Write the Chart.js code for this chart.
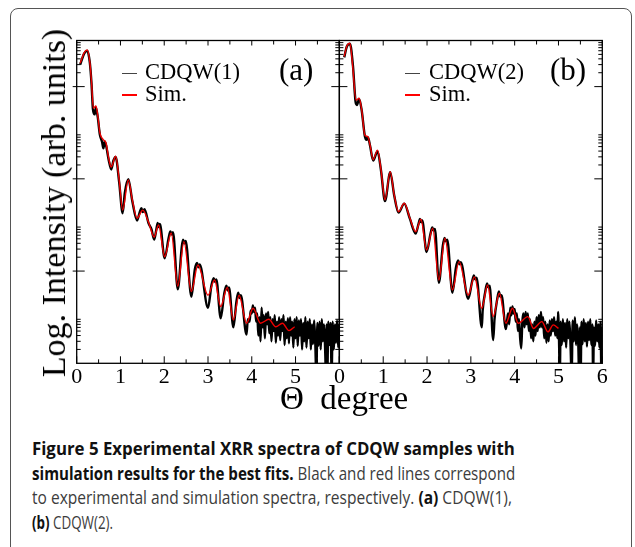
<!DOCTYPE html>
<html>
<head>
<meta charset="utf-8">
<script src="https://cdn.jsdelivr.net/npm/chart.js@4.4.1/dist/chart.umd.min.js"></script>
<style>
  html, body { margin: 0; padding: 0; background: #fff; }
  body { width: 635px; height: 547px; position: relative; overflow: hidden; }
  #frame { position: absolute; left: 10px; top: 8px; width: 622px; height: 620px; border: 1.3px solid #555; border-radius: 8px; box-sizing: border-box; }
  canvas { position: absolute; top: 0; }
  #chart-a { left: 0; }
  #chart-b { left: 320px; }
  .serif { position: absolute; font-family: 'Liberation Serif', 'Times New Roman', serif; color: #000; line-height: 1; white-space: pre; }
  .seg { position: absolute; height: 1.2px; width: 15px; }
  #ytitle { left: 54px; top: 203px; font-size: 34px; transform: translate(-50%, -50%) rotate(-90deg); }
  #caption { position: absolute; left: 32px; top: 436px; font-family: 'Open Sans', sans-serif; font-size: 18px; line-height: 24.5px; color: #3c3c3c; white-space: nowrap; }
  #caption .cl { transform-origin: 0 0; }
  #caption .cl span { display: inline-block; }
  #caption b { color: #111; font-weight: 700; }
</style>
</head>
<body>
<div id="frame"></div>
<canvas id="chart-a" width="345" height="400"></canvas>
<canvas id="chart-b" width="300" height="400"></canvas>

<div class="serif" id="ytitle">Log. Intensity (arb. units)</div>
<div class="serif" style="left:280px; top:382.4px; font-size:33px;">Θ  degree</div>

<div class="seg" style="left:122px; top:72.6px; background:#444;"></div>
<div class="serif" style="left:145px; top:61.2px; font-size:22.5px;">CDQW(1)</div>
<div class="seg" style="left:122px; top:94.4px; background:#f00;"></div>
<div class="serif" style="left:145px; top:83.2px; font-size:22.5px;">Sim.</div>
<div class="serif" style="left:279px; top:54px; font-size:31px;">(a)</div>

<div class="seg" style="left:405px; top:72.6px; background:#444;"></div>
<div class="serif" style="left:429px; top:61.2px; font-size:22.5px;">CDQW(2)</div>
<div class="seg" style="left:405px; top:94.4px; background:#f00;"></div>
<div class="serif" style="left:429px; top:83.2px; font-size:22.5px;">Sim.</div>
<div class="serif" style="left:550px; top:54px; font-size:31px;">(b)</div>

<div id="caption">
  <div class="cl" data-w="483"><span><b>Figure 5 Experimental XRR spectra of CDQW samples with</b></span></div>
  <div class="cl" data-w="483"><span><b>simulation results for the best fits.</b> Black and red lines correspond</span></div>
  <div class="cl" data-w="480"><span>to experimental and simulation spectra, respectively. <b>(a)</b> CDQW(1),</span></div>
  <div class="cl" data-w="81"><span><b>(b)</b> CDQW(2).</span></div>
</div>

<script>
// axis ticks (theta in degree, intensity in arb. units)
const xMajor = [0, 1, 2, 3, 4, 5, 6];
const xMinor = [0.5, 1.5, 2.5, 3.5, 4.5, 5.5];
const yMajor = [1e2, 1e4, 1e6];
const yMinor = [2, 3, 4, 5, 6, 7, 8, 9, 2e2, 3e2, 4e2, 5e2, 6e2, 7e2, 8e2, 9e2,
  2e4, 3e4, 4e4, 5e4, 6e4, 7e4, 8e4, 9e4, 2e6, 3e6, 4e6, 5e6, 6e6, 7e6, 8e6, 9e6];

// (a) CDQW(1)
const simAx = [0.08, 0.17, 0.24, 0.30, 0.34, 0.38, 0.44, 0.48, 0.53, 0.61, 0.67, 0.73, 0.79, 0.89, 0.97, 1.05,
  1.18, 1.27, 1.38, 1.51, 1.64, 1.77, 1.87, 2.01, 2.16, 2.31, 2.45, 2.62, 2.77, 3.00, 3.15, 3.29, 3.44, 3.58,
  3.71, 3.88, 4.03, 4.20, 4.39, 4.55, 4.70, 4.85, 4.98];
const simA = [3.2e6, 5.4e6, 6.2e6, 3.4e6, 1.2e6, 3.4e5, 3.8e5, 2.4e5, 9.9e4, 7.0e4, 6.0e4, 2.8e4, 1.8e4, 3.1e4, 9.5e3, 2.1e3,
  9.5e3, 3.5e3, 1.4e3, 2.1e3, 1.16e3, 548, 998, 205, 670, 47, 434, 36, 135, 30, 64, 17, 44, 8.7,
  30, 7.4, 15.6, 7.4, 9.0, 6.2, 7.4, 5.1, 6.2];
const expAx = [0.08, 0.17, 0.24, 0.30, 0.34, 0.37, 0.41, 0.44, 0.48, 0.53, 0.58, 0.61, 0.64, 0.67, 0.73, 0.79, 0.84, 0.89, 0.97,
  1.05, 1.10, 1.18, 1.27, 1.38, 1.44, 1.48, 1.51, 1.55, 1.64, 1.71, 1.77, 1.82, 1.85, 1.87, 1.90, 2.01, 2.10, 2.14, 2.17, 2.20,
  2.31, 2.40, 2.43, 2.46, 2.49, 2.62, 2.70, 2.75, 2.78, 2.81, 3.00, 3.08, 3.13, 3.16, 3.19, 3.29, 3.37, 3.42, 3.45, 3.48,
  3.58, 3.65, 3.69, 3.72, 3.75, 3.88, 3.91,
  3.950, 3.975, 4.000, 4.025, 4.050, 4.075, 4.100, 4.125, 4.150, 4.175, 4.200, 4.225, 4.250, 4.275, 4.300, 4.325,
  4.350, 4.375, 4.400, 4.425, 4.450, 4.475, 4.500, 4.525, 4.550, 4.575, 4.600, 4.625, 4.650, 4.675, 4.700, 4.725,
  4.750, 4.775, 4.800, 4.825, 4.850, 4.875, 4.900, 4.925, 4.950, 4.975, 5.000, 5.025, 5.050, 5.075, 5.100, 5.125,
  5.150, 5.175, 5.200, 5.225, 5.250, 5.275, 5.300, 5.325, 5.350, 5.375, 5.400, 5.425, 5.450, 5.475, 5.500, 5.525,
  5.550, 5.575, 5.600, 5.625, 5.650, 5.675, 5.700, 5.710, 5.725, 5.750, 5.775, 5.800, 5.825, 5.850, 5.875, 5.900,
  5.925, 5.950, 5.975, 6.000];
const expA = [3.0e6, 5.2e6, 6.0e6, 3.3e6, 1.1e6, 3.3e5, 2.5e5, 3.5e5, 2.2e5, 9.0e4, 6.3e4, 4.6e4, 6.5e4, 5.4e4, 2.6e4, 1.6e4, 2.5e4, 3.0e4, 8.5e3,
  1.8e3, 5.0e3, 9.8e3, 3.3e3, 1.25e3, 1.9e3, 2.3e3, 1.9e3, 2.2e3, 1.1e3, 800, 480, 800, 1.1e3, 900, 1.05e3, 190, 520, 720, 620, 700,
  40, 330, 480, 400, 450, 28, 110, 150, 120, 140, 16, 50, 70, 58, 66, 9.5, 32, 48, 38, 44,
  6.0, 22, 34, 26, 30, 4.2, 9,
  8, 14, 12, 18, 13, 16, 8, 12, 4, 10, 3, 16, 6, 11, 3.5, 12,
  7, 13, 4.5, 10, 3, 9, 5, 11, 2.8, 8, 4, 10, 3.2, 9, 5, 11,
  2.5, 8, 3.5, 9.5, 2.7, 10, 4, 8, 2.2, 9, 3.5, 10, 2.4, 8.5, 4, 9,
  2.0, 7.5, 3, 10, 2.2, 8, 3.5, 9, 2.0, 7, 2.6, 8.5, 3, 0.5, 7.5, 2.4,
  8, 2.0, 9, 3, 7, 2.2, 0.4, 7, 0.5, 8, 2.5, 7.5, 0.6, 8, 2.0, 7,
  2.8, 8.5, 2.2, 7];

// (b) CDQW(2)
const simBx = [0.11, 0.17, 0.24, 0.30, 0.38, 0.45, 0.51, 0.58, 0.65, 0.70, 0.77, 0.87, 0.95, 1.04, 1.16, 1.25, 1.35, 1.48,
  1.61, 1.74, 1.86, 1.99, 2.13, 2.27, 2.41, 2.58, 2.73, 2.94, 3.08, 3.25, 3.38, 3.51, 3.65, 3.80, 3.95, 4.08, 4.30,
  4.43, 4.62, 4.76, 4.88, 5.00];
const simB = [4.5e6, 7.6e6, 8.7e6, 3.0e6, 5.1e5, 5.6e5, 3.1e5, 8.9e4, 8.2e4, 5.4e4, 2.6e4, 4.2e4, 1.55e4, 3.5e3, 1.43e4, 4.5e3, 1.94e3, 2.95e3,
  1.4e3, 714, 1.33e3, 286, 847, 64, 514, 39, 160, 30, 75, 15.6, 50, 10.3, 33, 7.4, 15.6, 7.4, 10.3,
  5.7, 8.0, 4.8, 6.8, 5.7];
const expBx = [0.11, 0.17, 0.24, 0.31, 0.37, 0.40, 0.45, 0.51, 0.58, 0.62, 0.65, 0.70, 0.77, 0.87, 0.95, 1.04, 1.16, 1.25, 1.35,
  1.48, 1.61, 1.74, 1.80, 1.84, 1.86, 1.89, 1.99, 2.08, 2.12, 2.15, 2.18, 2.27, 2.36, 2.40, 2.43, 2.46, 2.58, 2.66, 2.71, 2.74, 2.77,
  2.94, 3.03, 3.07, 3.10, 3.13, 3.25, 3.27, 3.33, 3.37, 3.40, 3.43, 3.51, 3.54, 3.60, 3.64, 3.67, 3.70, 3.80, 3.83,
  3.850, 3.875, 3.900, 3.925, 3.950, 3.975, 4.000, 4.025, 4.050, 4.075, 4.100, 4.125, 4.150, 4.175, 4.200, 4.225,
  4.250, 4.275, 4.300, 4.325, 4.350, 4.375, 4.400, 4.425, 4.450, 4.475, 4.500, 4.525, 4.550, 4.575, 4.600, 4.625,
  4.650, 4.675, 4.700, 4.725, 4.750, 4.775, 4.800, 4.825, 4.850, 4.875, 4.900, 4.925, 4.950, 4.975, 4.990, 5.010,
  5.030, 5.050, 5.075, 5.100, 5.125, 5.150, 5.175, 5.200, 5.225, 5.250, 5.275, 5.300, 5.325, 5.350, 5.375, 5.400,
  5.425, 5.450, 5.475, 5.490, 5.505, 5.525, 5.550, 5.575, 5.600, 5.625, 5.650, 5.675, 5.700, 5.725, 5.750, 5.775,
  5.790, 5.810, 5.835, 5.860, 5.885, 5.910, 5.935, 5.960, 5.980, 6.000];
const expB = [4.3e6, 7.4e6, 8.5e6, 2.8e6, 4.6e5, 4.0e5, 5.4e5, 3.0e5, 8.5e4, 7.0e4, 8.0e4, 5.2e4, 2.5e4, 4.0e4, 1.5e4, 3.3e3, 1.4e4, 4.4e3, 1.85e3,
  2.9e3, 1.35e3, 650, 1.0e3, 1.35e3, 1.15e3, 1.25e3, 260, 650, 880, 760, 820, 56, 350, 520, 440, 480, 34, 120, 170, 140, 155,
  25, 60, 80, 66, 72, 6.0, 14, 36, 54, 44, 48, 3.2, 9, 24, 36, 28, 30, 5.5, 9,
  12, 7, 16, 11, 17, 12, 15, 8, 12, 5, 9, 3.5, 2.1, 8, 12, 6,
  13, 7, 12, 5, 9, 3.5, 7, 3, 8, 4, 10, 5, 11, 6, 13, 6,
  10, 3.5, 8, 2.8, 7, 3, 8.5, 4, 9, 5, 10, 4, 8, 3.5, 13, 4,
  0.5, 8, 2.5, 9, 3, 7.5, 2.2, 9, 3.5, 8, 2.4, 0.5, 8.5, 3, 10, 2.5,
  7, 3, 0.4, 6, 0.4, 8, 2.6, 9, 3, 7.5, 2.3, 8, 3.2, 9, 2.5, 7,
  0.5, 6, 2.4, 8.5, 3, 7, 2.2, 8, 0.5, 6];

const toPoints = (xs, ys) => xs.map((x, i) => ({ x, y: ys[i] }));

// inward tick marks and the box round the plot area
const frameTicks = {
  id: 'frameTicks',
  afterDatasetsDraw(chart, args, opts) {
    const { ctx, chartArea: { left, right, top, bottom }, scales: { x, y } } = chart;
    ctx.save();
    ctx.strokeStyle = '#000';
    ctx.lineWidth = 1;
    const line = (x1, y1, x2, y2) => {
      ctx.beginPath();
      ctx.moveTo(x1, y1);
      ctx.lineTo(x2, y2);
      ctx.stroke();
    };
    xMajor.forEach((v) => {
      const px = x.getPixelForValue(v);
      line(px, bottom, px, bottom - 7);
      line(px, top, px, top + 5);
    });
    xMinor.forEach((v) => {
      const px = x.getPixelForValue(v);
      line(px, bottom, px, bottom - 4);
      line(px, top, px, top + 4);
    });
    yMajor.forEach((v) => {
      const py = y.getPixelForValue(v);
      line(left - (opts.leftOut || 0), py, left + 8, py);
      line(right, py, right - 8, py);
    });
    yMinor.forEach((v) => {
      const py = y.getPixelForValue(v);
      line(left, py, left + 4, py);
      line(right, py, right - 4, py);
    });
    ctx.lineWidth = 1.3;
    ctx.strokeRect(left, top, right - left, bottom - top);
    ctx.restore();
  }
};

const makePanel = (id, pad, simX, simY, expX, expY, hideSix) => {
  const ctx = document.getElementById(id);
  return new Chart(ctx, {
    type: 'line',
    data: {
      datasets: [{
        label: 'Sim.',
        data: toPoints(simX, simY),
        borderColor: '#ee0000',
        borderWidth: 1.4,
        pointRadius: 0,
        cubicInterpolationMode: 'monotone',
        clip: 0,
      }, {
        label: 'CDQW',
        data: toPoints(expX, expY),
        borderColor: '#000',
        borderWidth: 2.4,
        pointRadius: 0,
        cubicInterpolationMode: 'monotone',
        clip: 0,
      }],
    },
    options: {
      responsive: false,
      animation: false,
      layout: { padding: pad },
      scales: {
        x: {
          type: 'linear',
          min: 0,
          max: 6,
          grid: { display: false, drawTicks: false },
          border: { display: false },
          ticks: {
            stepSize: 1,
            padding: 1,
            color: '#000',
            font: { family: "'Liberation Serif', serif", size: 22 },
            callback: (v) => (hideSix && v === 6 ? '' : v),
          },
          afterFit: (scale) => { scale.height = 34; },
        },
        y: {
          type: 'logarithmic',
          min: 1,
          max: 1e7,
          display: false,
        },
      },
      plugins: {
        legend: { display: false },
        tooltip: { enabled: false },
        frameTicks: { leftOut: hideSix ? 4 : 0 },
      },
    },
    plugins: [frameTicks],
  });
};

makePanel('chart-a', { left: 76.7, top: 40.5, right: 5.7, bottom: 2.7 }, simAx, simA, expAx, expA, true);
makePanel('chart-b', { left: 19.4, top: 40.5, right: 17.7, bottom: 2.7 }, simBx, simB, expBx, expB, false);

// squeeze every caption line to the width of the printed one
document.querySelectorAll('#caption .cl').forEach((el) => {
  const w = el.querySelector('span').getBoundingClientRect().width;
  el.style.transform = 'scaleX(' + (Number(el.dataset.w) / w).toFixed(3) + ')';
});
</script>
</body>
</html>
